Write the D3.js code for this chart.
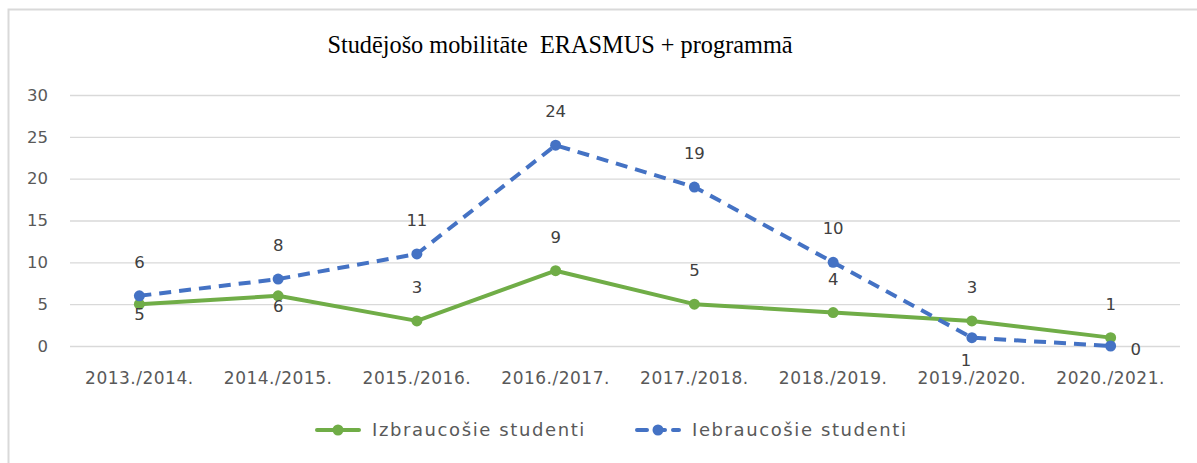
<!DOCTYPE html>
<html>
<head>
<meta charset="utf-8">
<script src="https://cdn.jsdelivr.net/npm/d3@7"></script>
<style>
  body { margin: 0; background: #fff; }
  text { white-space: pre; }
</style>
</head>
<body>
<script>
var years = ['2013./2014.', '2014./2015.', '2015./2016.', '2016./2017.',
  '2017./2018.', '2018./2019.', '2019./2020.', '2020./2021.'];
var outgoing = [5, 6, 3, 9, 5, 4, 3, 1];
var incoming = [6, 8, 11, 24, 19, 10, 1, 0];
var yTicks = [0, 5, 10, 15, 20, 25, 30];
var seriesNames = ['Izbraucošie studenti', 'Iebraucošie studenti'];
// where each data label sits relative to its point
var outgoingPos = ['below', 'below', 'above', 'above', 'above', 'above', 'above', 'above'];
var incomingPos = ['above', 'above', 'above', 'above', 'above', 'above', 'below', 'right'];

var w = 1197;
var h = 463;
var green = '#70ad47';
var blue = '#4472c4';
var labelFont = 'DejaVu Sans, sans-serif';

var svg = d3.select('body')
  .append('svg')
  .attr('width', w)
  .attr('height', h);

/* ===== frame ===== */

svg.append('path')
  .attr('d', 'M8.5,' + h + 'V9.5H' + w)
  .attr('fill', 'none')
  .attr('stroke', '#d9d9d9')
  .attr('stroke-width', 2);

svg.append('text')
  .attr('x', 560)
  .attr('y', 53)
  .attr('text-anchor', 'middle')
  .style('font-family', 'Liberation Serif, Times New Roman, serif')
  .style('font-size', '24.3px')
  .attr('fill', '#000')
  .text('Studējošo mobilitāte  ERASMUS + programmā');

/* ===== scales ===== */

var xScale = d3.scaleBand()
  .domain(years)
  .range([70, 1180]);

var yScale = d3.scaleLinear()
  .domain([0, 30])
  .range([346, 95]);

var cx = function(d, i) { return xScale(years[i]) + xScale.bandwidth() / 2; };

/* ===== grid and axes ===== */

var yAxis = d3.axisLeft(yScale)
  .tickValues(yTicks)
  .tickSize(-1110)
  .tickPadding(22);

var gy = svg.append('g')
  .attr('transform', 'translate(70,0)')
  .call(yAxis);
gy.select('.domain').remove();
gy.selectAll('line').attr('stroke', '#d9d9d9').attr('stroke-width', 1.3);
gy.selectAll('text')
  .attr('fill', '#595959')
  .style('font-family', labelFont)
  .style('font-size', '16.5px');

var xAxis = d3.axisBottom(xScale)
  .tickSize(0)
  .tickPadding(26);

var gx = svg.append('g')
  .attr('transform', 'translate(0,346)')
  .call(xAxis);
gx.select('.domain').remove();
gx.selectAll('text')
  .attr('fill', '#595959')
  .style('font-family', labelFont)
  .style('font-size', '17px')
  .style('letter-spacing', '0.5px');

/* ===== lines ===== */

function drawSeries(values, color, dash, positions) {
  var line = d3.line()
    .x(cx)
    .y(function(d) { return yScale(d); });

  svg.append('path')
    .datum(values)
    .attr('d', line)
    .attr('fill', 'none')
    .attr('stroke', color)
    .attr('stroke-width', 4)
    .attr('stroke-dasharray', dash)
    .attr('stroke-linejoin', 'round');

  svg.append('g').selectAll('circle')
    .data(values)
    .enter()
    .append('circle')
    .attr('cx', cx)
    .attr('cy', function(d) { return yScale(d); })
    .attr('r', 5.5)
    .attr('fill', color);

  svg.append('g').selectAll('text')
    .data(values)
    .enter()
    .append('text')
    .attr('x', function(d, i) {
      if (positions[i] === 'right') return cx(d, i) + 25;
      if (positions[i] === 'below' && i === 6) return cx(d, i) - 6;
      return cx(d, i);
    })
    .attr('y', function(d, i) {
      var y = yScale(d);
      if (positions[i] === 'above') return y - 28;
      if (positions[i] === 'below') return y + (i === 6 ? 28 : 16);
      return y + 9;
    })
    .attr('text-anchor', 'middle')
    .attr('fill', '#404040')
    .style('font-family', labelFont)
    .style('font-size', '16.5px')
    .text(function(d) { return d; });
}

drawSeries(outgoing, green, null, outgoingPos);
drawSeries(incoming, blue, '12,8', incomingPos);

/* ===== legend ===== */

var legend = svg.append('g');
var legendX = [317, 637];
var legendColors = [green, blue];
var legendDash = [null, '10,8'];

seriesNames.forEach(function(name, i) {
  var lx = legendX[i];
  legend.append('line')
    .attr('x1', lx).attr('x2', lx + 42)
    .attr('y1', 430).attr('y2', 430)
    .attr('stroke', legendColors[i])
    .attr('stroke-width', 4)
    .attr('stroke-linecap', 'round')
    .attr('stroke-dasharray', legendDash[i]);
  legend.append('circle')
    .attr('cx', lx + 21).attr('cy', 430)
    .attr('r', 5.5)
    .attr('fill', legendColors[i]);
  legend.append('text')
    .attr('x', lx + 55)
    .attr('y', 436)
    .attr('fill', '#595959')
    .style('font-family', labelFont)
    .style('font-size', '18px')
    .style('letter-spacing', '1.6px')
    .text(name);
});
</script>
</body>
</html>
